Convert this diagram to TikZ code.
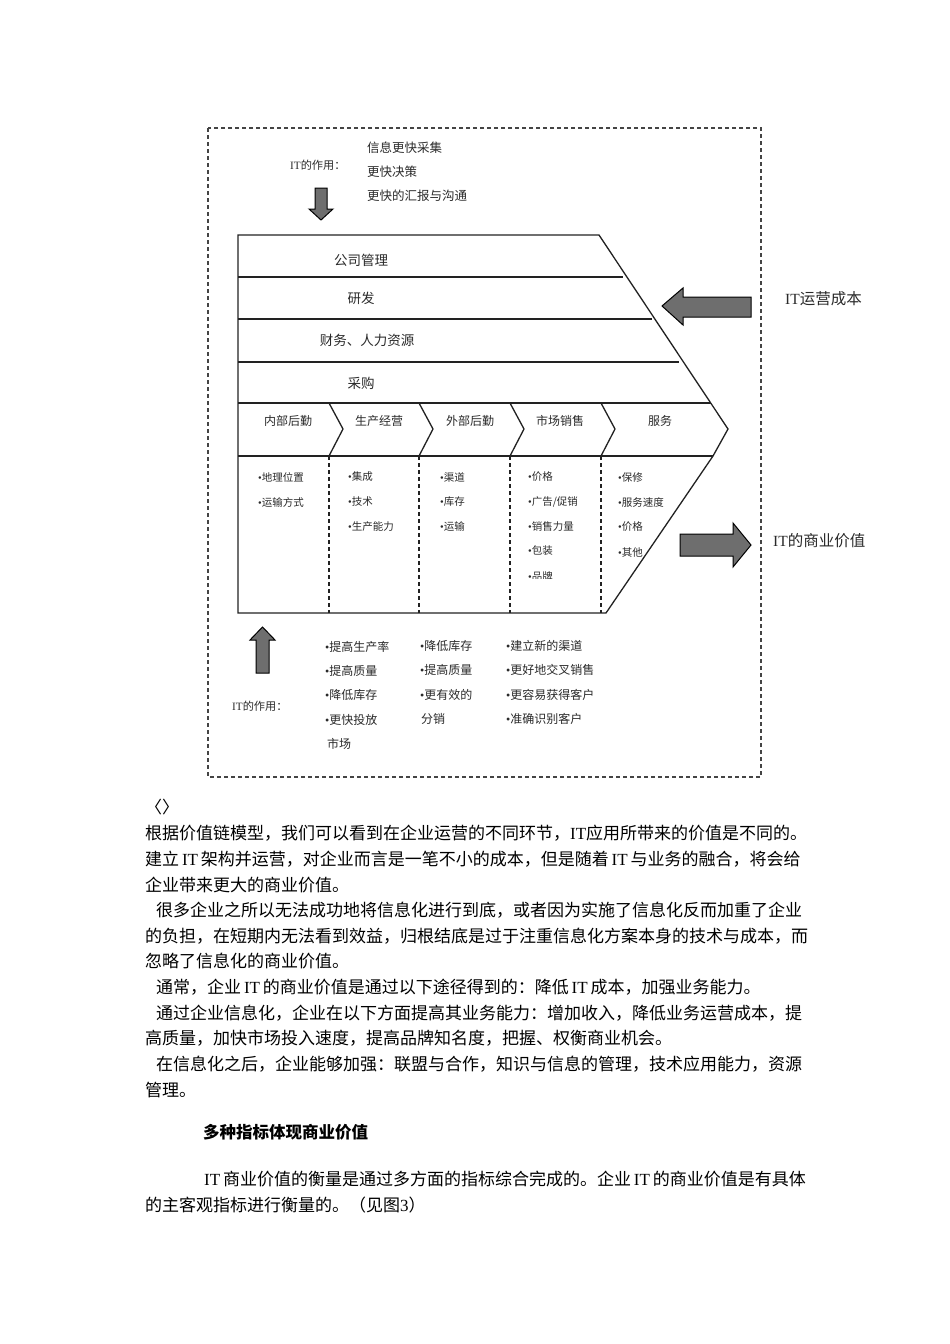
\documentclass[tikz,border=0pt]{standalone}
\usepackage{fontspec}
\newfontfamily\cjk{Noto Sans CJK SC}
\newfontfamily\lat{Liberation Serif}
\newcommand{\ITx}{{\lat IT}}
\newcommand{\bul}{{\lat •}}
\definecolor{ink}{HTML}{2A2A2A}
\definecolor{linec}{HTML}{222222}
\definecolor{framec}{HTML}{444444}
\definecolor{arrowc}{HTML}{6E6E6E}
\tikzset{
  rowlbl/.style={font=\cjk\fontsize{13.5}{16}\selectfont, text=ink, inner sep=0pt},
  prim/.style={font=\cjk\fontsize{12}{14}\selectfont, text=ink, inner sep=0pt},
  item/.style={font=\cjk\fontsize{10.5}{12}\selectfont, text=ink, inner sep=0pt, anchor=west},
  role/.style={font=\cjk\fontsize{12.5}{14}\selectfont, text=ink, inner sep=0pt, anchor=west},
  lowitem/.style={font=\cjk\fontsize{12}{14}\selectfont, text=ink, inner sep=0pt, anchor=west},
  rolehead/.style={font=\cjk\fontsize{11.2}{13}\selectfont, text=ink, inner sep=0pt, anchor=west},
  sidelbl/.style={font=\cjk\fontsize{15.5}{18}\selectfont, text=ink, inner sep=0pt, anchor=west},
  body/.style={font=\cjk\fontsize{17}{20}\selectfont, text=black, inner sep=0pt, anchor=west},
  heading/.style={font=\cjk\bfseries\fontsize{16.5}{19}\selectfont, text=black, inner sep=0pt, anchor=west},
  bigarrow/.style={fill=arrowc, draw=black, line width=1pt, line join=miter},
  outline/.style={draw=linec, line width=1.3pt},
  dashframe/.style={draw=framec, line width=1.2pt, dash pattern=on 4pt off 3pt},
  colsep/.style={draw=linec, line width=1.2pt, dash pattern=on 4pt off 3pt}
}
\begin{document}
\begin{tikzpicture}[x=1pt,y=-1pt]
\useasboundingbox (0,0) rectangle (950,1344);
\fill[white] (0,0) rectangle (950,1344);

% dashed frame
\draw[dashframe] (208,128) rectangle (761,777);

% top role text
\node[rolehead] (toprole) at (290,165) {\ITx 的作用：};
\node[role] (t1) at (367,148) {信息更快采集};
\node[role] (t2) at (367,172) {更快决策};
\node[role] (t3) at (367,196) {更快的汇报与沟通};

% arrows
\draw[bigarrow] (315,188) -- (327,188) -- (327,209) -- (333,209) -- (321,220) -- (309,209) -- (315,209) -- cycle;
\draw[bigarrow] (256,673) -- (269,673) -- (269,640) -- (275,640) -- (262.5,627) -- (250,640) -- (256,640) -- cycle;
\draw[bigarrow] (751,297) -- (751,317) -- (683,317) -- (683,325) -- (662,306) -- (683,288) -- (683,297) -- cycle;
\draw[bigarrow] (680,534) -- (733,534) -- (733,523) -- (751,545) -- (733,567) -- (733,556) -- (680,556) -- cycle;

% main value chain outline
\draw[outline, line join=miter] (238,235) -- (599,235) -- (728,429) -- (713,456) -- (606,613) -- (238,613) -- cycle;
\draw[outline] (238,277) -- (623,277);
\draw[outline] (238,319) -- (652,319);
\draw[outline] (238,362) -- (679,362);
\draw[outline] (238,403) -- (711,403);
\draw[outline] (238,456) -- (713,456);
\foreach \cx in {329,419,510,601}{
  \draw[outline, line join=miter] (\cx,403) -- (\cx+14,429) -- (\cx,456);
  \draw[colsep] (\cx,456) -- (\cx,613);
}

% support activities
\node[rowlbl] (r1) at (361,260) {公司管理};
\node[rowlbl] (r2) at (361,298) {研发};
\node[rowlbl] (r3) at (367,340) {财务、人力资源};
\node[rowlbl] (r4) at (361,383) {采购};

% primary activities
\node[prim] (p1) at (288,421) {内部后勤};
\node[prim] (p2) at (379,421) {生产经营};
\node[prim] (p3) at (470,421) {外部后勤};
\node[prim] (p4) at (560,421) {市场销售};
\node[prim] (p5) at (660,421) {服务};

% items
\node[item] (i11) at (258,477) {\bul 地理位置};
\node[item] (i12) at (258,502) {\bul 运输方式};
\node[item] (i21) at (348,477) {\bul 集成};
\node[item] (i22) at (348,502) {\bul 技术};
\node[item] (i23) at (348,527) {\bul 生产能力};
\node[item] (i31) at (440,477) {\bul 渠道};
\node[item] (i32) at (440,502) {\bul 库存};
\node[item] (i33) at (440,527) {\bul 运输};
\node[item] (i41) at (528,477) {\bul 价格};
\node[item] (i42) at (528,502) {\bul 广告/促销};
\node[item] (i43) at (528,527) {\bul 销售力量};
\node[item] (i44) at (528,551) {\bul 包装};
\begin{scope}
\clip (520,565) rectangle (600,578);
\node[item] (i45) at (528,576) {\bul 品牌};
\end{scope}
\node[item] (i51) at (618,477) {\bul 保修};
\node[item] (i52) at (618,502) {\bul 服务速度};
\node[item] (i53) at (618,527) {\bul 价格};
\node[item] (i54) at (618,552) {\bul 其他};

% side labels
\node[sidelbl] (cost) at (785,299) {\ITx 运营成本};
\node[sidelbl] (value) at (773,541) {\ITx 的商业价值};

% bottom role text
\node[rolehead] (botrole) at (232,706) {\ITx 的作用：};
\node[lowitem] (a1) at (325,647) {\bul 提高生产率};
\node[lowitem] (a2) at (325,671) {\bul 提高质量};
\node[lowitem] (a3) at (325,695) {\bul 降低库存};
\node[lowitem] (a4) at (325,720) {\bul 更快投放};
\node[lowitem] (a5) at (327,744) {市场};
\node[lowitem] (c1) at (420,646) {\bul 降低库存};
\node[lowitem] (c2) at (420,670) {\bul 提高质量};
\node[lowitem] (c3) at (420,695) {\bul 更有效的};
\node[lowitem] (c4) at (421,719) {分销};
\node[lowitem] (d1) at (506,646) {\bul 建立新的渠道};
\node[lowitem] (d2) at (506,670) {\bul 更好地交叉销售};
\node[lowitem] (d3) at (506,695) {\bul 更容易获得客户};
\node[lowitem] (d4) at (506,719) {\bul 准确识别客户};

% body text
\node[body] (b0) at (145,807) {〈〉};
\node[body] (b1) at (145,833) {根据价值链模型，我们可以看到在企业运营的不同环节，\ITx 应用所带来的价值是不同的。};
\node[body] (b2) at (145,859) {建立\,\ITx\,架构并运营，对企业而言是一笔不小的成本，但是随着\,\ITx\,与业务的融合，将会给};
\node[body] (b3) at (145,885) {企业带来更大的商业价值。};
\node[body] (b4) at (156,910) {很多企业之所以无法成功地将信息化进行到底，或者因为实施了信息化反而加重了企业};
\node[body] (b5) at (145,936) {的负担，在短期内无法看到效益，归根结底是过于注重信息化方案本身的技术与成本，而};
\node[body] (b6) at (145,961) {忽略了信息化的商业价值。};
\node[body] (b7) at (156,987) {通常，企业\,\ITx\,的商业价值是通过以下途径得到的：降低\,\ITx\,成本，加强业务能力。};
\node[body] (b8) at (156,1013) {通过企业信息化，企业在以下方面提高其业务能力：增加收入，降低业务运营成本，提};
\node[body] (b9) at (145,1038) {高质量，加快市场投入速度，提高品牌知名度，把握、权衡商业机会。};
\node[body] (b10) at (156,1064) {在信息化之后，企业能够加强：联盟与合作，知识与信息的管理，技术应用能力，资源};
\node[body] (b11) at (145,1090) {管理。};
\node[heading] (h1) at (203,1132) {多种指标体现商业价值};
\node[body] (b12) at (204,1179) {\ITx\,商业价值的衡量是通过多方面的指标综合完成的。企业\,\ITx\,的商业价值是有具体};
\node[body] (b13) at (145,1205) {的主客观指标进行衡量的。（见图{\lat 3}）};
\end{tikzpicture}
\end{document}
